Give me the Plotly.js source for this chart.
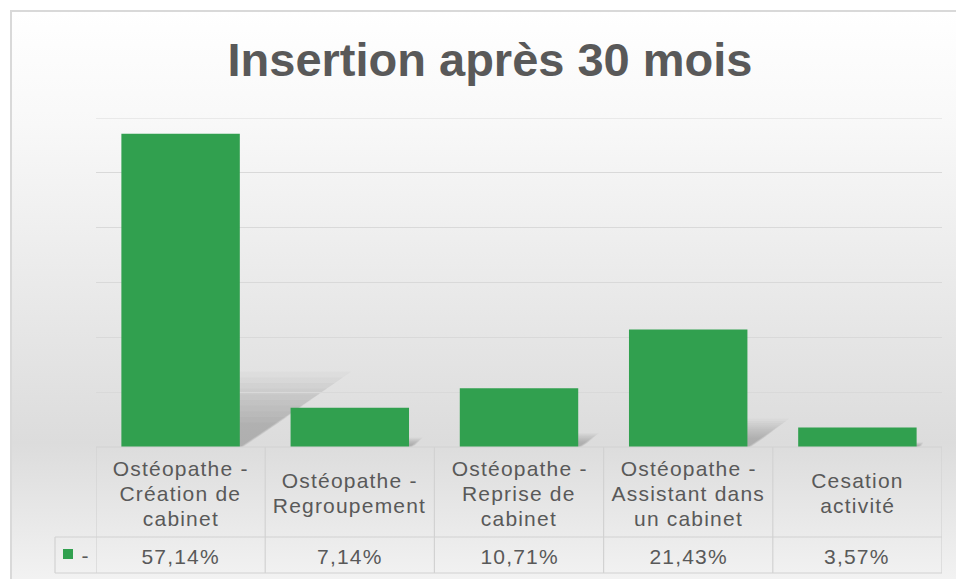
<!DOCTYPE html>
<html>
<head>
<meta charset="utf-8">
<script src="https://cdn.plot.ly/plotly-3.0.1.min.js"></script>
<style>
html,body{margin:0;padding:0;background:#fff;}
#chart{width:956px;height:579px;}
#chart .annotation-text{letter-spacing:1.2px;}
</style>
</head>
<body>
<div id="chart"></div>
<script>
// ---- data ----
const chartTitle = "Insertion après 30 mois";
const categories = [
  "Ostéopathe -<br>Création de<br>cabinet",
  "Ostéopathe -<br>Regroupement",
  "Ostéopathe -<br>Reprise de<br>cabinet",
  "Ostéopathe -<br>Assistant dans<br>un cabinet",
  "Cesation<br>activité"
];
const values = [57.14, 7.14, 10.71, 21.43, 3.57];
const valueLabels = ["57,14%", "7,14%", "10,71%", "21,43%", "3,57%"];
const seriesName = "-";

// ---- layout helpers (pixel -> paper) ----
const W = 956, H = 579;
const mL = 96, mR = 14, mT = 118, mB = 132;
const pw = W - mL - mR, ph = H - mT - mB;
const px = x => (x - mL) / pw;
const py = y => (H - mB - y) / ph;
const yMax = 60;

const green = "#31a04f";
const txt = "#595959";
const lineC = "#d2d2d2";
const font = {family: "Liberation Sans, Arial, sans-serif", size: 21, color: txt};

const shapes = [];
const annotations = [];

// outer chart border
shapes.push({type: "rect", xref: "paper", yref: "paper", x0: px(11), x1: px(970), y0: py(600), y1: py(11),
  line: {color: "#d9d9d9", width: 2}, fillcolor: "rgba(0,0,0,0)", layer: "below"});

// top gridline (range end)
shapes.push({type: "line", xref: "paper", yref: "y", x0: 0, x1: 1, y0: yMax, y1: yMax, line: {color: "#d9d9d9", width: 1.2}, layer: "below"});

// soft bar shadows (decoration derived from values)
const nLayers = 10;
values.forEach((v, i) => {
  for (let L = 0; L < nLayers; L++) {
    const k = 1 - L * 0.075;
    const hs = v * 0.24 * k;
    const s = v * 0.0115 * k;
    const xl = i - 0.35, xr = i + 0.35 + 0.03 * (1 - k);
    shapes.push({type: "path", xref: "x", yref: "y",
      path: `M ${xl} 0 L ${xr} 0 L ${xr + s} ${hs} L ${xl + s} ${hs} Z`,
      fillcolor: "rgba(80,80,80,0.035)", line: {width: 0}, layer: "below"});
  }
});

// table lines
const headTop = 447, headBot = 537, tabBot = 573, legL = 55;
for (let i = 0; i <= categories.length; i++) {
  shapes.push({type: "line", xref: "x", yref: "paper", x0: i - 0.5, x1: i - 0.5, y0: py(headTop), y1: py(tabBot),
    line: {color: lineC, width: 1.2}});
}
shapes.push({type: "line", xref: "paper", yref: "paper", x0: 0, x1: 1, y0: py(headTop), y1: py(headTop), line: {color: lineC, width: 1.2}});
shapes.push({type: "line", xref: "paper", yref: "paper", x0: px(legL), x1: 1, y0: py(headBot), y1: py(headBot), line: {color: lineC, width: 1.2}});
shapes.push({type: "line", xref: "paper", yref: "paper", x0: px(legL), x1: 1, y0: py(tabBot), y1: py(tabBot), line: {color: lineC, width: 1.2}});
shapes.push({type: "line", xref: "paper", yref: "paper", x0: px(legL), x1: px(legL), y0: py(headBot), y1: py(tabBot), line: {color: lineC, width: 1.2}});
// legend key
shapes.push({type: "rect", xref: "paper", yref: "paper", x0: px(63), x1: px(73), y0: py(559), y1: py(549),
  fillcolor: green, line: {width: 0}});
annotations.push({xref: "paper", yref: "paper", x: px(85), y: py(555), text: seriesName, showarrow: false, font: font, xanchor: "center", yanchor: "middle"});

// category labels (line by line, 25px leading) and values
const lead = 25;
categories.forEach((c, i) => {
  const lines = c.split("<br>");
  const mid = (headTop + headBot) / 2 + 1;
  lines.forEach((ln, j) => {
    const yc = mid + (j - (lines.length - 1) / 2) * lead;
    annotations.push({xref: "x", yref: "paper", x: i, y: py(yc), text: ln, showarrow: false,
      font: font, xanchor: "center", yanchor: "middle", align: "center"});
  });
  annotations.push({xref: "x", yref: "paper", x: i, y: py((headBot + tabBot) / 2 + 1), text: valueLabels[i], showarrow: false,
    font: font, xanchor: "center", yanchor: "middle"});
});

// background gradient
const svg = `<svg xmlns="http://www.w3.org/2000/svg" width="100" height="100" preserveAspectRatio="none"><defs><linearGradient id="g" x1="0" y1="0" x2="0" y2="1"><stop offset="0" stop-color="#ffffff"/><stop offset="0.2" stop-color="#f8f8f8"/><stop offset="0.76" stop-color="#dcdcdc"/><stop offset="1" stop-color="#f2f2f2"/></linearGradient></defs><rect width="100" height="100" fill="url(#g)"/></svg>`;
const bgImg = "data:image/svg+xml;base64," + btoa(svg);

const trace = {
  type: "bar",
  x: categories,
  y: values,
  name: seriesName,
  marker: {color: green, line: {width: 0}},
  hoverinfo: "skip"
};

const layout = {
  width: W, height: H,
  margin: {l: mL, r: mR, t: mT, b: mB},
  paper_bgcolor: "#ffffff",
  plot_bgcolor: "rgba(0,0,0,0)",
  showlegend: false,
  bargap: 0.3,
  title: {text: chartTitle, font: {family: "Liberation Sans, Arial, sans-serif", size: 47, color: txt, weight: "bold"},
    x: 490 / W, xref: "container", xanchor: "center", y: 1 - 60 / H, yref: "container", yanchor: "middle"},
  xaxis: {type: "category", range: [-0.5, categories.length - 0.5], showticklabels: false, ticks: "",
    showgrid: false, zeroline: false, showline: false, fixedrange: true},
  yaxis: {range: [0, yMax], dtick: 10, showticklabels: false, ticks: "", showgrid: true, gridcolor: "#d9d9d9", gridwidth: 1.2,
    zeroline: false, showline: false, fixedrange: true},
  shapes: shapes,
  annotations: annotations,
  images: [{source: bgImg, xref: "paper", yref: "paper", x: px(12), y: py(12), sizex: px(956) - px(12), sizey: py(12) - py(579),
    sizing: "stretch", xanchor: "left", yanchor: "top", layer: "below"}]
};

Plotly.newPlot("chart", [trace], layout, {displayModeBar: false, staticPlot: true});
</script>
</body>
</html>
